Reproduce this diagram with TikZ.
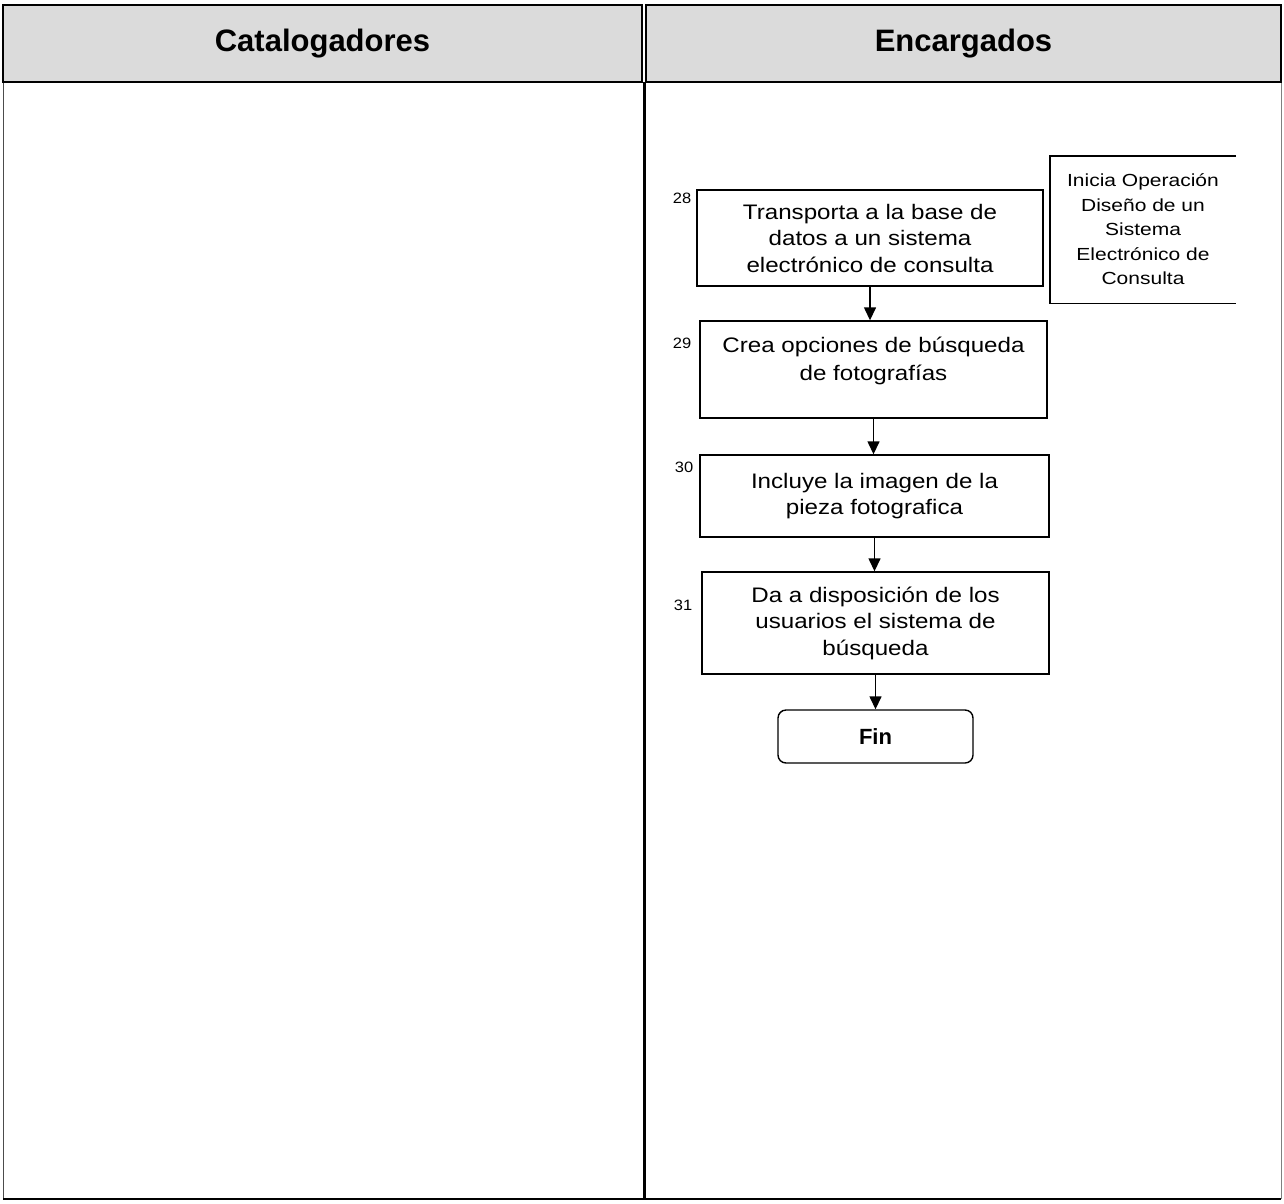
\documentclass[tikz,border=0pt]{standalone}
\usepackage{fontspec}
\setmainfont{Liberation Sans}
\newfontfamily\boxfont[FakeStretch=1.15]{Liberation Sans}
\newfontfamily\sidefont[FakeStretch=1.2]{Liberation Sans}
\newfontfamily\numfont[FakeStretch=1.1]{Liberation Sans}
\usetikzlibrary{arrows.meta}
\begin{document}
\begin{tikzpicture}[x=1pt,y=-1pt,
  hdr/.style={draw=black,line width=2pt,fill=black!14,inner sep=0pt,
    font=\bfseries\fontsize{31}{31}\selectfont},
  proc/.style={draw=black,line width=1.4pt,inner sep=0pt,align=center,
    font=\boxfont\fontsize{21}{26.5}\selectfont},
  boxtxt/.style={inner sep=0pt,align=center,font=\boxfont\fontsize{21}{27.5}\selectfont},
  sidebox/.style={inner sep=0pt,align=center,font=\sidefont\fontsize{17.5}{24.5}\selectfont},
  endbox/.style={draw=black,line width=1.4pt,rounded corners=8pt,inner sep=0pt,
    font=\bfseries\fontsize{22}{22}\selectfont},
  numlbl/.style={inner sep=0pt,font=\numfont\fontsize{15}{15}\selectfont},
  flow/.style={line width=1.4pt,-{Triangle[length=13pt,width=12pt]}}
]
\useasboundingbox (0,0) rectangle (1284,1203);
% lanes
\draw[line width=1pt,black!70] (3,82) -- (3,1199);
\draw[line width=0.8pt,black!50] (1281,82) -- (1281,1199);
\draw[line width=2pt] (3,1199) -- (1281,1199);
\draw[line width=3pt] (644,82) -- (644,1199);
% headers
\node[hdr,minimum width=639pt,minimum height=77pt] (hcat) at (322.5,43.5) {Catalogadores};
\node[hdr,minimum width=635pt,minimum height=77pt] (henc) at (963.5,43.5) {Encargados};
% process boxes
\node[proc,minimum width=346pt,minimum height=96pt] (b28) at (870,238)
  {Transporta a la base de\\datos a un sistema\\electrónico de consulta};
\node[proc,minimum width=347pt,minimum height=97pt] (b29) at (873.5,369.5) {};
\node[boxtxt] (t29) at (873.5,361) {Crea opciones de búsqueda\\de fotografías};
\node[proc,minimum width=349pt,minimum height=82pt] (b30) at (874.5,496)
  {Incluye la imagen de la\\pieza fotografica};
\node[proc,minimum width=347pt,minimum height=102pt] (b31) at (875.5,623)
  {Da a disposición de los\\usuarios el sistema de\\búsqueda};
\node[endbox,minimum width=195pt,minimum height=53pt] (fin) at (875.5,736.5) {Fin};
% side note
\node[sidebox,minimum width=186pt,minimum height=147pt] (side) at (1143,229.5)
  {Inicia Operación\\Diseño de un\\Sistema\\Electrónico de\\Consulta};
\draw[line width=1.4pt] (side.north east) -- (side.north west) -- (side.south west) -- (side.south east);
% step numbers
\node[numlbl] (n28) at (682,198) {28};
\node[numlbl] (n29) at (682,343) {29};
\node[numlbl] (n30) at (684,467) {30};
\node[numlbl] (n31) at (683,605) {31};
% connectors
\draw[flow] (b28.south) -- (b28.south |- b29.north);
\draw[flow] (b29.south) -- (b29.south |- b30.north);
\draw[flow] (b30.south) -- (b30.south |- b31.north);
\draw[flow] (b31.south) -- (b31.south |- fin.north);
\end{tikzpicture}
\end{document}
